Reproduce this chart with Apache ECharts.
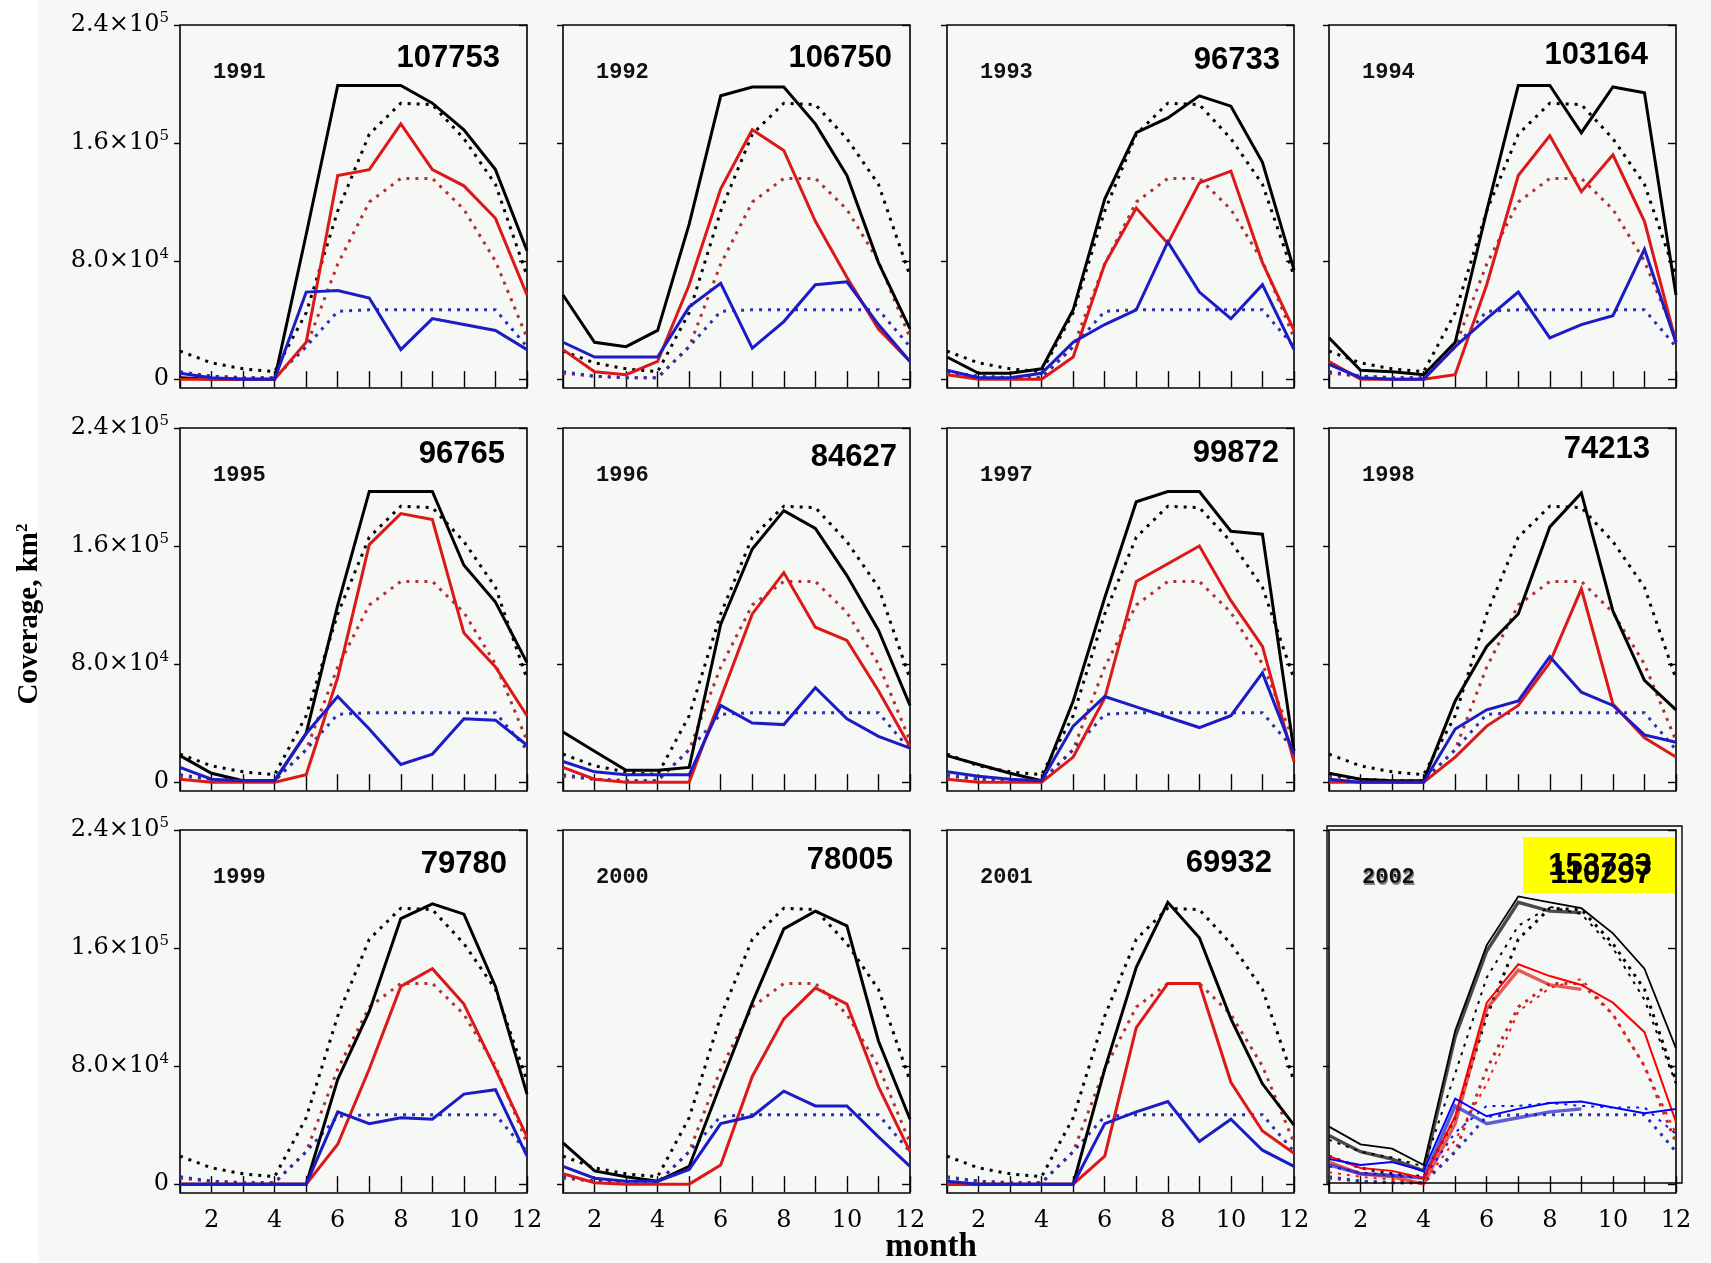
<!DOCTYPE html>
<html>
<head>
<meta charset="utf-8">
<title>Monthly coverage 1991–2002</title>
<script src="https://cdn.jsdelivr.net/npm/echarts@6/dist/echarts.min.js"></script>
<style>
  html, body { margin: 0; padding: 0; background: #f5f8f5; }
  #chart { width: 1711px; height: 1263px; }
</style>
</head>
<body>
<div id="chart"></div>
<script>
// ---- data (coverage in thousands of km²) ----
const months = [1, 2, 3, 4, 5, 6, 7, 8, 9, 10, 11, 12];
const monthTicks = [2, 4, 6, 8, 10, 12];
const years = ['1991', '1992', '1993', '1994', '1995', '1996', '1997', '1998', '1999', '2000', '2001', '2002'];
const annualValues = ['107753', '106750', '96733', '103164', '96765', '84627', '99872', '74213', '79780', '78005', '69932'];
const annualValues2002 = ['153733', '110297'];

const yTicks = [0, 80, 160, 240];
const yTickMantissa = ['0', '8.0×10', '1.6×10', '2.4×10'];
const yTickPower = ['', '4', '5', '5'];

// long-term mean curves (dotted)
const climTotal = [19, 11, 7, 5, 45, 114, 166, 187, 186, 163, 132, 70];
const climRed   = [4, 2, 1, 1, 22, 78, 120, 136, 136, 115, 80, 28];
const climBlue  = [5, 2, 1, 1, 22, 46, 47, 47, 47, 47, 47, 22];

// yearly curves (solid), one row per year; 2002 runs through September
const totalByYear = [
  [1, 0, 0, 0, 98, 199, 199, 199, 187, 169, 142, 87],
  [57, 25, 22, 33, 105, 192, 198, 198, 173, 138, 79, 34],
  [15, 4, 4, 7, 47, 122, 167, 177, 192, 185, 147, 74],
  [28, 6, 5, 3, 25, 114, 199, 199, 167, 198, 194, 57],
  [18, 6, 1, 1, 33, 120, 197, 197, 197, 147, 122, 81],
  [34, 21, 8, 8, 10, 107, 158, 184, 172, 140, 103, 52],
  [18, 12, 6, 1, 55, 125, 190, 197, 197, 170, 168, 21],
  [6, 2, 1, 1, 55, 92, 114, 173, 196, 116, 69, 49],
  [0, 0, 0, 0, 0, 71, 117, 180, 190, 183, 134, 61],
  [28, 9, 5, 2, 12, 68, 123, 173, 185, 175, 97, 44],
  [0, 0, 0, 0, 0, 78, 147, 191, 167, 112, 68, 40],
  [33, 22, 17, 9, 100, 158, 191, 185, 184]
];
const redByYear = [
  [0, 0, 0, 0, 25, 138, 142, 173, 142, 131, 109, 57],
  [20, 5, 3, 12, 64, 129, 169, 155, 107, 69, 34, 12],
  [3, 0, 0, 0, 15, 78, 116, 92, 133, 141, 79, 33],
  [12, 0, 0, 0, 3, 64, 138, 165, 127, 152, 107, 25],
  [2, 0, 0, 0, 5, 71, 161, 182, 178, 101, 78, 45],
  [10, 2, 0, 0, 0, 57, 114, 142, 105, 96, 62, 24],
  [2, 0, 0, 0, 17, 57, 136, 148, 160, 123, 92, 14],
  [0, 0, 0, 0, 17, 38, 52, 81, 131, 53, 30, 17],
  [0, 0, 0, 0, 0, 27, 78, 134, 146, 122, 78, 32],
  [7, 1, 0, 0, 0, 13, 73, 112, 133, 122, 66, 22],
  [0, 0, 0, 0, 0, 19, 106, 136, 136, 69, 36, 21],
  [15, 7, 5, 0, 41, 119, 145, 135, 132]
];
const blueByYear = [
  [4, 1, 0, 0, 59, 60, 55, 20, 41, 37, 33, 20],
  [25, 15, 15, 15, 49, 65, 21, 39, 64, 66, 37, 12],
  [6, 1, 1, 4, 25, 37, 47, 93, 59, 41, 64, 20],
  [10, 1, 0, 0, 22, 41, 59, 28, 37, 43, 88, 25],
  [10, 2, 1, 1, 33, 58, 36, 12, 19, 43, 42, 25],
  [14, 7, 5, 5, 5, 52, 40, 39, 64, 43, 31, 23],
  [7, 4, 2, 1, 38, 58, 51, 44, 37, 45, 74, 19],
  [2, 0, 0, 0, 36, 49, 55, 85, 61, 52, 32, 27],
  [0, 0, 0, 0, 0, 49, 41, 45, 44, 61, 64, 19],
  [12, 4, 2, 2, 10, 41, 46, 63, 53, 53, 32, 12],
  [2, 0, 0, 0, 0, 41, 49, 56, 29, 44, 23, 12],
  [13, 7, 6, 4, 53, 41, 45, 49, 51]
];

// 2002 overlay (thin lines, full year)
const total2002 = [39, 27, 24, 13, 104, 162, 195, 191, 187, 170, 146, 92];
const red2002   = [19, 11, 9, 4, 46, 123, 149, 141, 135, 123, 103, 42];
const blue2002  = [17, 13, 15, 9, 58, 46, 51, 55, 56, 52, 48, 51];
const climTotal2002 = [30, 22, 18, 12, 75, 140, 175, 188, 183, 160, 125, 68];
const climRed2002   = [8, 5, 3, 1, 30, 68, 117, 133, 139, 115, 80, 34];
const climBlue2002  = [12, 8, 6, 4, 35, 53, 53, 55, 53, 52, 52, 34];

// ---- layout ----
const colLeft = [180, 563, 947, 1329];
const rowTop = [25, 428, 830];
const panelW = 347, panelH = 363;
const valueRight = [27, 18, 14, 28, 22, 13, 15, 26, 20, 17, 22];
const valueDy = [33, 33, 35, 30, 26, 29, 25, 21, 34, 30, 33];

const BLACK = '#000000', RED = '#dc1818', BLUE = '#1c1cc4';
const RED_DOT = '#b43030', BLUE_DOT = '#2e2eb4';
const DOTS = [3, 6];

const pts = vals => vals.map((v, i) => [months[i], v]);

const grids = [], xAxes = [], yAxes = [], series = [], graphics = [];

const yLabelFormatter = v => {
  const k = yTicks.indexOf(v);
  if (k <= 0) return '{m|0}';
  return '{m|' + yTickMantissa[k] + '}{s|' + yTickPower[k] + '}';
};

function line(idx, data, color, width, dotted) {
  return {
    type: 'line',
    xAxisIndex: 2 * idx,
    yAxisIndex: 2 * idx,
    data: data,
    symbol: 'none',
    silent: true,
    animation: false,
    lineStyle: { color: color, width: width, type: dotted ? DOTS : 'solid', cap: 'butt', join: 'miter' }
  };
}

years.forEach((yr, i) => {
  const r = Math.floor(i / 4), c = i % 4;
  const left = colLeft[c], top = rowTop[r];
  grids.push({
    left: left, top: top, width: panelW, height: panelH,
    show: true, borderColor: '#000', borderWidth: 1.6, backgroundColor: 'transparent'
  });
  const xBase = {
    gridIndex: i, type: 'value', min: 1, max: 12, interval: 1,
    axisLine: { show: false }, splitLine: { show: false },
    axisTick: { inside: true, length: 8, lineStyle: { color: '#000', width: 1.4 } }
  };
  xAxes.push(Object.assign({}, xBase, {
    position: 'bottom',
    axisLabel: {
      show: r === 2, customValues: monthTicks, margin: 16,
      fontFamily: 'DejaVu Serif', fontSize: 24, color: '#000'
    }
  }));
  xAxes.push(Object.assign({}, xBase, { position: 'top', axisLabel: { show: false } }));
  const yBase = {
    gridIndex: i, type: 'value', min: -6, max: 240,
    axisLine: { show: false }, splitLine: { show: false }
  };
  yAxes.push(Object.assign({}, yBase, {
    position: 'left',
    axisTick: { customValues: yTicks, inside: false, length: 6, lineStyle: { color: '#000', width: 1.4 } },
    axisLabel: {
      show: c === 0, customValues: yTicks, margin: 11, formatter: yLabelFormatter,
      rich: {
        m: { fontFamily: 'DejaVu Serif', fontSize: 24, color: '#000', lineHeight: 28 },
        s: { fontFamily: 'DejaVu Serif', fontSize: 15, color: '#000', lineHeight: 15, verticalAlign: 'top' }
      }
    }
  }));
  yAxes.push(Object.assign({}, yBase, {
    position: 'right',
    axisTick: { customValues: yTicks, inside: true, length: 8, lineStyle: { color: '#000', width: 1.4 } },
    axisLabel: { show: false }
  }));

  const is2002 = i === 11;
  // long-term means
  series.push(line(i, pts(climTotal), BLACK, 3, true));
  series.push(line(i, pts(climRed), RED_DOT, 3, true));
  series.push(line(i, pts(climBlue), BLUE_DOT, 3, true));
  // this year
  const w = is2002 ? 3.4 : 3;
  const s1 = line(i, pts(totalByYear[i]), BLACK, w, false);
  const s2 = line(i, pts(redByYear[i]), RED, w, false);
  const s3 = line(i, pts(blueByYear[i]), BLUE, w, false);
  if (is2002) {
    [s1, s2, s3].forEach(s => { s.lineStyle.opacity = 0.7; });
  }
  series.push(s1, s2, s3);

  // panel texts
  graphics.push({
    type: 'text', left: left + 33, top: top + 47 - 11, z: 100,
    style: { text: yr, fontFamily: 'Liberation Mono', fontWeight: 'bold', fontSize: 22, fill: '#111' }
  });
  if (!is2002) {
    graphics.push({
      type: 'text', z: 100,
      x: left + panelW - valueRight[i], y: top + valueDy[i],
      style: {
        text: annualValues[i], fontFamily: 'Liberation Sans', fontWeight: 'bold', fontSize: 31, fill: '#000',
        textAlign: 'right', textVerticalAlign: 'middle'
      }
    });
  } else {
    graphics.push({
      type: 'text', left: left + 33 + 1, top: top + 47 - 11 + 2, z: 99,
      style: { text: yr, fontFamily: 'Liberation Mono', fontWeight: 'bold', fontSize: 22, fill: '#333', opacity: 0.6 }
    });
    graphics.push({
      type: 'rect', z: 100,
      shape: { x: 1523, y: 837, width: 152, height: 56 },
      style: { fill: '#ffff00' }
    });
    graphics.push({
      type: 'text', z: 101, x: 1600, y: 866,
      style: { text: annualValues2002[0], fontFamily: 'Liberation Sans', fontWeight: 'bold', fontSize: 31, fill: '#000', textAlign: 'center', textVerticalAlign: 'middle' }
    });
    graphics.push({
      type: 'text', z: 101, x: 1601, y: 874,
      style: { text: annualValues2002[1], fontFamily: 'Liberation Sans', fontWeight: 'bold', fontSize: 31, fill: '#000', textAlign: 'center', textVerticalAlign: 'middle' }
    });
    // second frame of the overlaid plot
    graphics.push({
      type: 'rect', z: 50,
      shape: { x: 1327, y: 826, width: 355, height: 357 },
      style: { fill: 'none', stroke: '#000', lineWidth: 1.4 }
    });
    // thin overlay lines
    series.push(line(i, pts(climTotal2002), BLACK, 2, true));
    series.push(line(i, pts(climRed2002), '#ff1010', 2, true));
    series.push(line(i, pts(climBlue2002), '#1010ff', 2, true));
    series.push(line(i, pts(total2002), BLACK, 1.8, false));
    series.push(line(i, pts(red2002), '#ff0000', 2, false));
    series.push(line(i, pts(blue2002), '#0000ff', 2, false));
  }
});

// page-level labels
graphics.push({
  type: 'rect', z: -1, shape: { x: 0, y: 0, width: 38, height: 1263 }, style: { fill: '#ffffff' }
});
graphics.push({
  type: 'text', z: 100, x: 30, y: 614, rotation: Math.PI / 2,
  style: {
    text: '{a|Coverage, km}{b|2}', textAlign: 'center', textVerticalAlign: 'middle',
    rich: {
      a: { fontFamily: 'Liberation Serif', fontWeight: 'bold', fontSize: 29, fill: '#000', lineHeight: 32 },
      b: { fontFamily: 'Liberation Serif', fontWeight: 'bold', fontSize: 17, fill: '#000', lineHeight: 17, verticalAlign: 'top' }
    }
  }
});
graphics.push({
  type: 'text', z: 100, x: 931, y: 1247,
  style: {
    text: 'month', fontFamily: 'Liberation Serif', fontWeight: 'bold', fontSize: 33,
    fill: '#000', textAlign: 'center', textVerticalAlign: 'middle'
  }
});

const chart = echarts.init(document.getElementById('chart'), null, { renderer: 'canvas' });
chart.setOption({
  backgroundColor: '#f5f8f5',
  animation: false,
  grid: grids,
  xAxis: xAxes,
  yAxis: yAxes,
  series: series,
  graphic: graphics
});
</script>
</body>
</html>
